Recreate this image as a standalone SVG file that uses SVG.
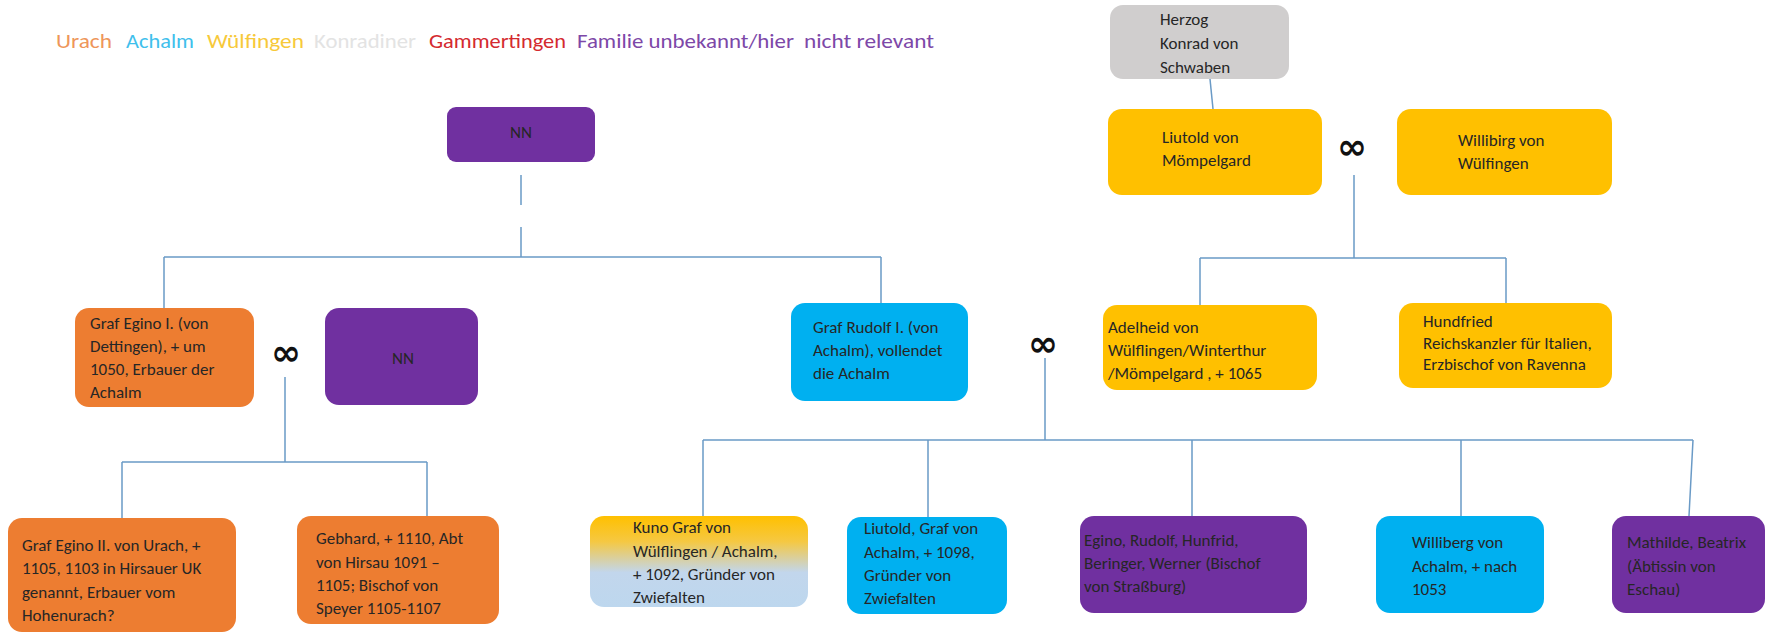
<svg xmlns="http://www.w3.org/2000/svg" width="1781" height="633" viewBox="0 0 1781 633">
<defs>
<style>
.or{fill:#ED7D31}
.cy{fill:#00B0F0}
.ye{fill:#FFC000}
.pu{fill:#7030A0}
.gr{fill:#D0CECE}
.t{font-family:Carlito,Lato,"Liberation Sans",sans-serif;font-size:17px;fill:#262626}
.inf{font-family:"DejaVu Sans",sans-serif;font-size:36px;font-weight:bold;fill:#111;text-anchor:middle}
.lg{font-family:Carlito,Lato,"Liberation Sans",sans-serif;font-size:21px}
.c{stroke:#6A9AC6;stroke-width:1.5;fill:none}
</style>
<linearGradient id="kuno" x1="0" y1="0" x2="0" y2="1">
<stop offset="0" stop-color="#FFC000"/>
<stop offset="0.28" stop-color="#F5C842"/>
<stop offset="0.62" stop-color="#C2D6EC"/>
<stop offset="1" stop-color="#BDD7EE"/>
</linearGradient>
</defs>
<rect width="1781" height="633" fill="#fff"/>

<g id="legend" class="lg">
<text x="56" y="48" fill="#EE965A" textLength="56" lengthAdjust="spacingAndGlyphs">Urach</text>
<text x="126" y="48" fill="#3FC0EC" textLength="68" lengthAdjust="spacingAndGlyphs">Achalm</text>
<text x="207" y="48" fill="#F7C93A" textLength="97" lengthAdjust="spacingAndGlyphs">Wülfingen</text>
<text x="314" y="48" fill="#E3E3E3" textLength="102" lengthAdjust="spacingAndGlyphs">Konradiner</text>
<text x="429" y="48" fill="#D42A2F" textLength="137" lengthAdjust="spacingAndGlyphs">Gammertingen</text>
<text x="577" y="48" fill="#7D48A8" textLength="217" lengthAdjust="spacingAndGlyphs">Familie unbekannt/hier</text>
<text x="804" y="48" fill="#7D48A8" textLength="130" lengthAdjust="spacingAndGlyphs">nicht relevant</text>
</g>

<g id="connectors" class="c">
<path d="M1210 79 L1213 109"/>
<path d="M1354 175 V258 M1200 258 H1506 M1200 258 V305 M1506 258 V303"/>
<path d="M521 175 V205 M521 227 V257 M164 257 H881 M164 257 V308 M881 257 V303"/>
<path d="M285 377 V462 M122 462 H427 M122 462 V518 M427 462 V516"/>
<path d="M1045 358 V440 M703 440 H1693 M703 440 V516 M928 440 V517 M1192 440 V516 M1461 440 V516 M1693 440 L1689 516"/>
</g>

<g id="herzog-konrad">
<rect class="gr" x="1110" y="5" width="179" height="74" rx="13"/>
<text class="t"><tspan x="1160" y="25">Herzog</tspan><tspan x="1160" y="49">Konrad von</tspan><tspan x="1160" y="73">Schwaben</tspan></text>
</g>

<g id="liutold-moempelgard">
<rect class="ye" x="1108" y="109" width="214" height="86" rx="14"/>
<text class="t"><tspan x="1162" y="143">Liutold von</tspan><tspan x="1162" y="166">Mömpelgard</tspan></text>
</g>

<text id="inf-top" class="inf" x="1352" y="159">∞</text>

<g id="willibirg">
<rect class="ye" x="1397" y="109" width="215" height="86" rx="14"/>
<text class="t"><tspan x="1458" y="146">Willibirg von</tspan><tspan x="1458" y="169">Wülfingen</tspan></text>
</g>

<g id="nn-top">
<rect class="pu" x="447" y="107" width="148" height="55" rx="9"/>
<text class="t" x="521" y="138" text-anchor="middle">NN</text>
</g>

<g id="egino-1">
<rect class="or" x="75" y="308" width="179" height="99" rx="14"/>
<text class="t"><tspan x="90" y="329">Graf Egino I. (von</tspan><tspan x="90" y="352">Dettingen),  + um</tspan><tspan x="90" y="375">1050, Erbauer der</tspan><tspan x="90" y="398">Achalm</tspan></text>
</g>

<text id="inf-egino" class="inf" x="286" y="365">∞</text>

<g id="nn-2">
<rect class="pu" x="325" y="308" width="153" height="97" rx="14"/>
<text class="t" x="403" y="364" text-anchor="middle">NN</text>
</g>

<g id="rudolf-1">
<rect class="cy" x="791" y="303" width="177" height="98" rx="14"/>
<text class="t"><tspan x="813" y="333">Graf Rudolf I. (von</tspan><tspan x="813" y="356">Achalm), vollendet</tspan><tspan x="813" y="379">die Achalm</tspan></text>
</g>

<text id="inf-rudolf" class="inf" x="1043" y="356">∞</text>

<g id="adelheid">
<rect class="ye" x="1103" y="305" width="214" height="85" rx="14"/>
<text class="t"><tspan x="1108" y="333">Adelheid von</tspan><tspan x="1108" y="356">Wülflingen/Winterthur</tspan><tspan x="1108" y="379">/Mömpelgard , + 1065</tspan></text>
</g>

<g id="hundfried">
<rect class="ye" x="1399" y="303" width="213" height="85" rx="14"/>
<text class="t"><tspan x="1423" y="327">Hundfried</tspan><tspan x="1423" y="349">Reichskanzler für Italien,</tspan><tspan x="1423" y="370">Erzbischof von Ravenna</tspan></text>
</g>

<g id="egino-2">
<rect class="or" x="8" y="518" width="228" height="114" rx="14"/>
<text class="t"><tspan x="22" y="551">Graf Egino II. von Urach, +</tspan><tspan x="22" y="574">1105, 1103 in Hirsauer UK</tspan><tspan x="22" y="598">genannt, Erbauer vom</tspan><tspan x="22" y="621">Hohenurach?</tspan></text>
</g>

<g id="gebhard">
<rect class="or" x="297" y="516" width="202" height="108" rx="14"/>
<text class="t"><tspan x="316" y="544">Gebhard, + 1110, Abt</tspan><tspan x="316" y="568">von Hirsau 1091 –</tspan><tspan x="316" y="591">1105; Bischof von</tspan><tspan x="316" y="614">Speyer  1105-1107</tspan></text>
</g>

<g id="kuno">
<rect fill="url(#kuno)" x="590" y="516" width="218" height="91" rx="14"/>
<text class="t"><tspan x="633" y="533">Kuno Graf von</tspan><tspan x="633" y="557">Wülflingen / Achalm,</tspan><tspan x="633" y="580">+ 1092, Gründer von</tspan><tspan x="633" y="603">Zwiefalten</tspan></text>
</g>

<g id="liutold-achalm">
<rect class="cy" x="847" y="517" width="160" height="97" rx="14"/>
<text class="t"><tspan x="864" y="534">Liutold, Graf von</tspan><tspan x="864" y="558">Achalm, + 1098,</tspan><tspan x="864" y="581">Gründer von</tspan><tspan x="864" y="604">Zwiefalten</tspan></text>
</g>

<g id="egino-rudolf-etc">
<rect class="pu" x="1080" y="516" width="227" height="97" rx="14"/>
<text class="t"><tspan x="1084" y="546">Egino, Rudolf, Hunfrid,</tspan><tspan x="1084" y="569">Beringer,  Werner (Bischof</tspan><tspan x="1084" y="592">von Straßburg)</tspan></text>
</g>

<g id="williberg">
<rect class="cy" x="1376" y="516" width="168" height="97" rx="14"/>
<text class="t"><tspan x="1412" y="548">Williberg von</tspan><tspan x="1412" y="572">Achalm, + nach</tspan><tspan x="1412" y="595">1053</tspan></text>
</g>

<g id="mathilde-beatrix">
<rect class="pu" x="1612" y="516" width="153" height="97" rx="14"/>
<text class="t"><tspan x="1627" y="548">Mathilde, Beatrix</tspan><tspan x="1627" y="572">(Äbtissin von</tspan><tspan x="1627" y="595">Eschau)</tspan></text>
</g>
</svg>
